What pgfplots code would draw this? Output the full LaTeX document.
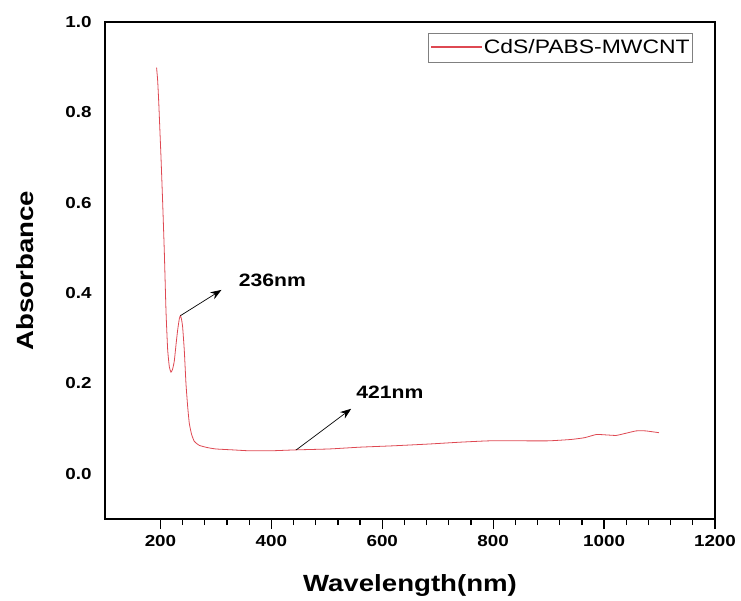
\documentclass[border=0pt]{standalone}
\usepackage{fontspec}
\setmainfont{Liberation Sans}[FakeStretch=1.18]
\usepackage{pgfplots}
\pgfplotsset{compat=1.18}
\usetikzlibrary{arrows.meta}
\definecolor{specred}{RGB}{222,72,82}
\begin{document}
\begin{tikzpicture}
\begin{axis}[
    name=ax, at={(0,0)}, anchor=south west,
    scale only axis,
    width=610bp, height=497bp,
    xmin=100, xmax=1200,
    ymin=-0.1, ymax=1.0,
    xtick={200,400,...,1200},
    ytick={0,0.2,...,1.0},
    minor x tick num=4,
    xtick pos=bottom, ytick pos=left,
    tick align=outside,
    major tick length=10bp, minor tick length=6bp,
    ytick style={draw=none},
    xtick style={line width=1.2pt, black},
    axis line style={line width=1.6pt},
    tick label style={font=\fontsize{16}{18}\selectfont\bfseries},
    /pgf/number format/assume math mode=true,
    xticklabel style={/pgf/number format/1000 sep={}, yshift=-3bp},
    yticklabel style={/pgf/number format/fixed, /pgf/number format/fixed zerofill, /pgf/number format/precision=1},
    xlabel={Wavelength(nm)},
    ylabel={Absorbance},
    label style={font=\fontsize{23.5}{26}\selectfont\bfseries},
    xlabel style={at={(axis description cs:0.5,-0.133)}, anchor=center},
    ylabel style={at={(axis description cs:-0.131,0.5)}, anchor=center},
    legend style={at={(1,1)}, anchor=north east, xshift=-22bp, yshift=-11bp,
        draw=gray, line width=0.6pt, inner xsep=2bp, inner ysep=4.5bp,
        nodes={inner xsep=1bp, inner ysep=2bp},
        font=\fontsize{19.5}{21}\selectfont},
    legend cell align=left,
    legend image code/.code={\draw[draw=specred, line width=1.3pt] (0bp,0.5bp) -- (51bp,0.5bp);},
    ]
\addplot[specred, line width=0.8pt, smooth, tension=0.3] coordinates {
(193,0.899) (195,0.870) (197,0.820) (199,0.760) (201,0.700) (204,0.600) (207,0.490)
(210,0.360) (213,0.275) (216,0.237) (219,0.225) (222,0.232) (225,0.25)
(228,0.285) (231,0.318) (234,0.343) (236,0.350) (238,0.342) (240,0.325)
(243,0.273) (246,0.200) (249,0.150) (252,0.112) (256,0.088) (261,0.072)
(270,0.063) (285,0.058) (300,0.055) (330,0.053) (360,0.051) (400,0.051)
(444,0.053) (504,0.055) (560,0.059) (620,0.062) (685,0.066) (740,0.070)
(793,0.073) (850,0.073) (900,0.073) (940,0.076) (965,0.080) (986,0.087) (1005,0.086)
(1022,0.085) (1040,0.090) (1058,0.095) (1075,0.095) (1099,0.091)
};
\addlegendentry{CdS/PABS-MWCNT}
\draw[-{Stealth[length=11bp,width=8bp]}, line width=0.7pt] (axis cs:236,0.35) -- (axis cs:310,0.407);
\draw[-{Stealth[length=11bp,width=8bp]}, line width=0.7pt] (axis cs:445,0.053) -- (axis cs:544,0.144);
\node[anchor=west, font=\fontsize{18}{20}\selectfont\bfseries] at (axis cs:335,0.429) {236nm};
\node[anchor=west, font=\fontsize{18}{20}\selectfont\bfseries] at (axis cs:547,0.18) {421nm};
\end{axis}
\pgfresetboundingbox
\path[use as bounding box] (-105bp,-82bp) rectangle (636bp,519bp);
\end{tikzpicture}
\end{document}
